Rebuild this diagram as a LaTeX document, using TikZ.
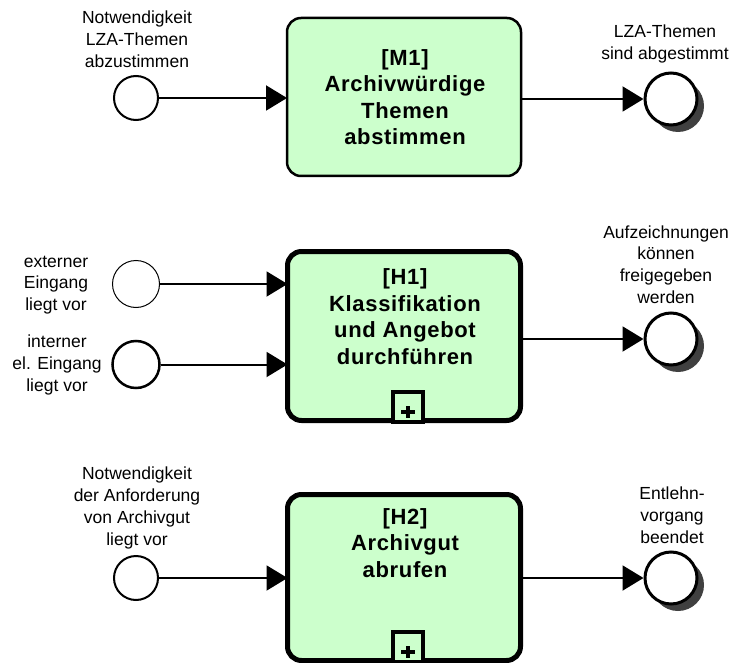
\documentclass[tikz,border=0pt]{standalone}
\usepackage{fontspec}
\setmainfont{Liberation Sans}
\usetikzlibrary{arrows.meta,shadows,calc}
\definecolor{taskfill}{RGB}{204,255,204}
\definecolor{shadowgray}{RGB}{64,64,64}
\begin{document}
\begin{tikzpicture}[x=1pt,y=-1pt,
  lbl/.style={align=center,inner sep=0pt,font=\fontsize{17.5}{21.8}\selectfont},
  tasktext/.style={align=center,inner sep=0pt,font=\bfseries\fontsize{22}{26.5}\selectfont\addfontfeature{LetterSpace=3}},
  taskbox/.style={draw,fill=taskfill,rounded corners=14pt,inner sep=0pt,outer sep=0pt},
  startev/.style={circle,draw,fill=white,inner sep=0pt,minimum size=#1},
  endev/.style={circle,draw,fill=white,inner sep=0pt,minimum size=52,line width=3pt,
    drop shadow={shadow xshift=7pt,shadow yshift=-7pt,opacity=1,fill=shadowgray}},
  flow/.style={line width=2pt,-{Triangle[length=21pt,width=25pt]}},
  submark/.style={draw,fill=taskfill,line width=4pt,inner sep=0pt,minimum width=30,minimum height=30},
  plussign/.style={line width=4pt}
]
\useasboundingbox (0,0) rectangle (741,663);
\fill[white] (0,0) rectangle (741,663);

% Row 1
\node[taskbox,line width=2.5pt,minimum width=234,minimum height=158] (m1) at (404,97) {};
\node[tasktext] (m1t) at (405,97) {[M1]\\Archivwürdige\\Themen\\abstimmen};
\node[startev=44,line width=2pt] (s1) at (136,98) {};
\node[lbl] (s1l) at (137,39.5) {Notwendigkeit\\LZA-Themen\\abzustimmen};
\node[endev] (e1) at (671,99) {};
\node[lbl] (e1l) at (665,44) {LZA-Themen\\sind abgestimmt};
\draw[flow] (s1.east) -- (s1.east -| m1.west);
\draw[flow] (e1.west -| m1.east) -- (e1.west);

% Row 2
\node[taskbox,line width=5pt,minimum width=233,minimum height=169] (h1) at (404,336) {};
\node[tasktext] (h1t) at (405,316.5) {[H1]\\Klassifikation\\und Angebot\\durchführen};
\node[submark] (p1) at (408,407) {};
\draw[plussign] ($(p1.center)+(-7,5)$) -- ($(p1.center)+(7,5)$);
\draw[plussign] ($(p1.center)+(0,-1)$) -- ($(p1.center)+(0,11)$);
\node[startev=47,line width=1pt] (s2) at (136,284) {};
\node[startev=47,line width=2.5pt] (s3) at (136,364.5) {};
\node[lbl] (s2l) at (56,285) {externer\\Eingang\\liegt vor};
\node[lbl] (s3l) at (57,365) {interner\\el. Eingang\\liegt vor};
\node[endev] (e2) at (671,339) {};
\node[lbl] (e2l) at (666,264.5) {Aufzeichnungen\\können\\freigegeben\\werden};
\draw[flow] (s2.east) -- (s2.east -| h1.west);
\draw[flow] (s3.east) -- (s3.east -| h1.west);
\draw[flow] (e2.west -| h1.east) -- (e2.west);

% Row 3
\node[taskbox,line width=5pt,minimum width=233,minimum height=166] (h2) at (404,577.5) {};
\node[tasktext] (h2t) at (405,543) {[H2]\\Archivgut\\abrufen};
\node[submark] (p2) at (408,647) {};
\draw[plussign] ($(p2.center)+(-7,5)$) -- ($(p2.center)+(7,5)$);
\draw[plussign] ($(p2.center)+(0,-1)$) -- ($(p2.center)+(0,11)$);
\node[startev=44,line width=2pt] (s4) at (136,578) {};
\node[lbl] (s4l) at (137,508) {Notwendigkeit\\der Anforderung\\von Archivgut\\liegt vor};
\node[endev] (e3) at (671,578) {};
\node[lbl] (e3l) at (672,515) {Entlehn-\\vorgang\\beendet};
\draw[flow] (s4.east) -- (s4.east -| h2.west);
\draw[flow] (e3.west -| h2.east) -- (e3.west);
\end{tikzpicture}
\end{document}
